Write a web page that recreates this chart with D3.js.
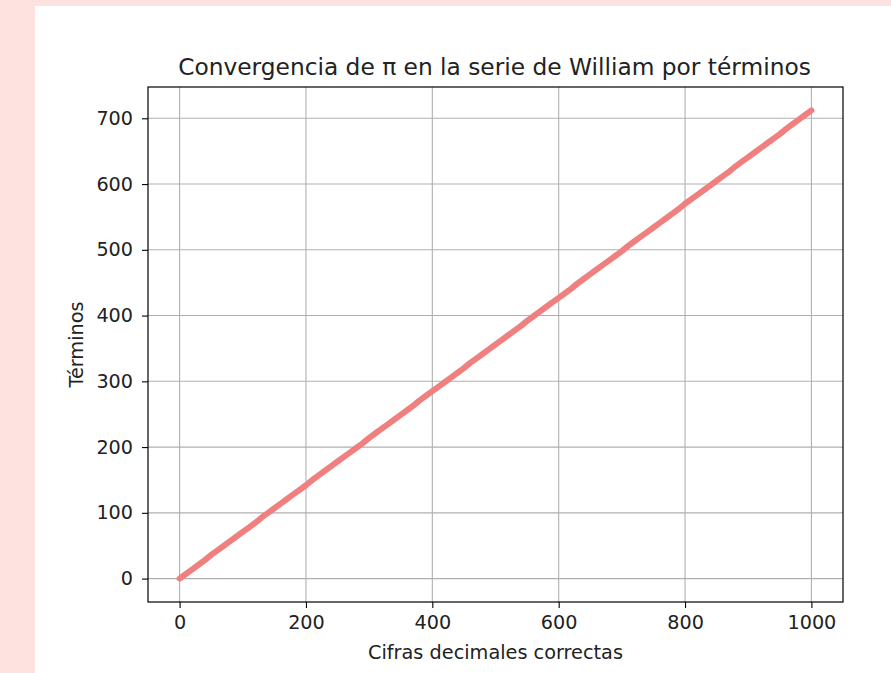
<!DOCTYPE html>
<html>
<head>
<meta charset="utf-8">
<script src="https://cdn.jsdelivr.net/npm/d3@7"></script>
<style>
  html, body { margin: 0; padding: 0; background: #fde2df; }
  svg { display: block; }
</style>
</head>
<body>
<svg id="chart" width="891" height="673"></svg>
<script>
// Data
const digits = [0,10,20,30,40,50,60,70,80,90,100,110,120,130,140,150,160,170,180,190,200,
  210,220,230,240,250,260,270,280,290,300,310,320,330,340,350,360,370,380,390,400,
  410,420,430,440,450,460,470,480,490,500,510,520,530,540,550,560,570,580,590,600,
  610,620,630,640,650,660,670,680,690,700,710,720,730,740,750,760,770,780,790,800,
  810,820,830,840,850,860,870,880,890,900,910,920,930,940,950,960,970,980,990,1000];
const terms = [0,7,14,21,28,36,43,50,57,64,71,78,85,93,100,107,114,121,128,135,142,
  150,157,164,171,178,185,192,199,206,214,221,228,235,242,249,256,263,271,278,285,
  292,299,306,313,320,328,335,342,349,356,363,370,377,384,392,399,406,413,420,427,
  434,441,449,456,463,470,477,484,491,498,506,513,520,527,534,541,548,555,562,570,
  577,584,591,598,605,612,619,627,634,641,648,655,662,669,676,684,691,698,705,712];
const xTicks = [0,200,400,600,800,1000];
const yTicks = [0,100,200,300,400,500,600,700];
const titleText = "Convergencia de π en la serie de William por términos";
const xLabel = "Cifras decimales correctas";
const yLabel = "Términos";

(function () {
const svg = d3.select("#chart");
const font = "DejaVu Sans, sans-serif";

// white figure panel
svg.append("rect").attr("x", 35).attr("y", 6).attr("width", 891 - 35).attr("height", 673 - 6).attr("fill", "#ffffff");

const L = 148, R = 843, T = 87, B = 602;
const xMax = d3.max(digits), yMax = d3.max(terms);
const x = d3.scaleLinear().domain([-0.05 * xMax, xMax * 1.05]).range([L, R]);
const y = d3.scaleLinear().domain([-0.05 * yMax, yMax * 1.05]).range([B, T]);

// grid
const g = svg.append("g");
g.selectAll(".vg").data(xTicks).enter().append("line")
  .attr("x1", d => x(d)).attr("x2", d => x(d)).attr("y1", T).attr("y2", B)
  .attr("stroke", "#b0b0b0").attr("stroke-width", 1.1);
g.selectAll(".hg").data(yTicks).enter().append("line")
  .attr("x1", L).attr("x2", R).attr("y1", d => y(d)).attr("y2", d => y(d))
  .attr("stroke", "#b0b0b0").attr("stroke-width", 1.1);

// line
const line = d3.line().x((d, i) => x(digits[i])).y(d => y(d));
svg.append("path").datum(terms).attr("d", line)
  .attr("fill", "none").attr("stroke", "#f08080").attr("stroke-width", 6)
  .attr("stroke-linecap", "round").attr("stroke-linejoin", "round");

// axes
const xAxis = d3.axisBottom(x).tickValues(xTicks).tickSize(6).tickPadding(7).tickFormat(d3.format("d"));
const yAxis = d3.axisLeft(y).tickValues(yTicks).tickSize(6).tickPadding(9).tickFormat(d3.format("d"));
const gx = svg.append("g").attr("transform", `translate(0,${B})`).call(xAxis);
const gy = svg.append("g").attr("transform", `translate(${L},0)`).call(yAxis);
[gx, gy].forEach(a => {
  a.select(".domain").remove();
  a.selectAll("line").attr("stroke", "#000").attr("stroke-width", 1.1);
  a.selectAll("text").attr("font-family", font).attr("font-size", 19.2).attr("fill", "#222");
});

// frame
svg.append("rect").attr("x", L).attr("y", T).attr("width", R - L).attr("height", B - T)
  .attr("fill", "none").attr("stroke", "#000").attr("stroke-width", 1.2);

// title and labels
svg.append("text").attr("x", (L + R) / 2 - 1).attr("y", 75).attr("text-anchor", "middle")
  .attr("font-family", font).attr("font-size", 23.3).attr("fill", "#222").text(titleText);
svg.append("text").attr("x", (L + R) / 2).attr("y", 659).attr("text-anchor", "middle")
  .attr("font-family", font).attr("font-size", 19.3).attr("fill", "#222").text(xLabel);
svg.append("text").attr("transform", `translate(83,${(T + B) / 2}) rotate(-90)`).attr("text-anchor", "middle")
  .attr("font-family", font).attr("font-size", 19.3).attr("fill", "#222").text(yLabel);
})();
</script>
</body>
</html>
